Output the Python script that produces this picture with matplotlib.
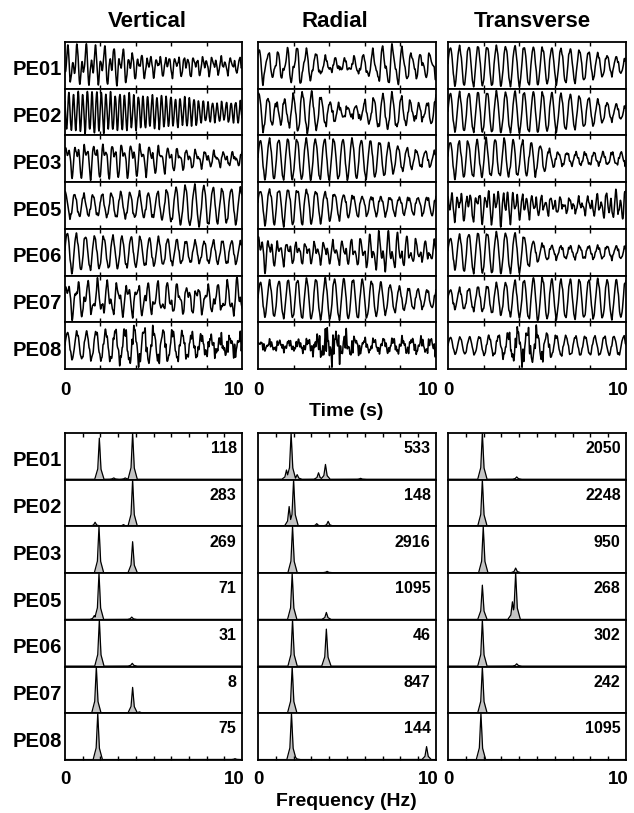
import matplotlib
matplotlib.use('Agg')
import matplotlib.pyplot as plt
import numpy as np

plt.rcParams['font.family'] = ['Liberation Sans', 'DejaVu Sans']
plt.rcParams['font.weight'] = 'bold'

W, H = 634, 813
stations = ['PE01', 'PE02', 'PE03', 'PE05', 'PE06', 'PE07', 'PE08']
components = ['Vertical', 'Radial', 'Transverse']

# spectral peaks (Hz, relative height)
peaks_v = [
    [(1.94, 0.89), (2.75, 0.03), (3.4, 0.03), (3.82, 1.0)],
    [(1.7, 0.08), (3.3, 0.03), (3.82, 1.0)],
    [(1.92, 1.0), (3.82, 0.67)],
    [(1.65, 0.08), (1.92, 1.0), (3.77, 0.05)],
    [(1.94, 1.0), (3.8, 0.06)],
    [(1.77, 1.0), (3.82, 0.55), (4.2, 0.02)],
    [(1.85, 1.0), (9.6, 0.02)],
]
peaks_r = [
    [(1.6, 0.2), (1.86, 1.0), (2.2, 0.1), (3.4, 0.14), (3.79, 0.32), (5.76, 0.02)],
    [(1.75, 0.42), (2.0, 1.0), (3.3, 0.05), (3.94, 0.1)],
    [(1.94, 1.0), (3.88, 0.03)],
    [(1.92, 1.0), (3.84, 0.15)],
    [(1.94, 1.0), (3.84, 0.8)],
    [(1.92, 1.0)],
    [(1.88, 1.0), (2.1, 0.05), (9.47, 0.28)],
]
peaks_t = [
    [(1.93, 1.0), (3.86, 0.05)],
    [(1.93, 1.0)],
    [(1.98, 1.0), (3.8, 0.1)],
    [(1.93, 0.74), (3.62, 0.38), (3.8, 1.0)],
    [(1.93, 1.0), (3.86, 0.05)],
    [(1.93, 1.0)],
    [(1.85, 1.0)],
]

# maximum spectral amplitude printed in each panel
vmax_v = [118, 283, 269, 71, 31, 8, 75]
vmax_r = [533, 148, 2916, 1095, 46, 847, 144]
vmax_t = [2050, 2248, 950, 268, 302, 242, 1095]

# trace amplitude read at every second (0..10 s), upper panels
env_v = [
    [0.9, 1.0, 0.9, 0.95, 0.6, 0.5, 0.5, 0.5, 0.45, 0.4, 0.35],
    [0.9, 1.0, 1.0, 0.9, 0.85, 0.8, 0.75, 0.7, 0.5, 0.45, 0.55],
    [0.9, 1.0, 1.0, 1.0, 0.95, 0.8, 0.7, 0.55, 0.45, 0.4, 0.35],
    [0.6, 0.55, 0.5, 0.55, 0.6, 0.65, 0.75, 0.9, 1.0, 0.85, 0.8],
    [1.0, 0.8, 0.75, 0.75, 0.7, 0.65, 0.6, 0.5, 0.5, 0.55, 0.5],
    [0.85, 0.8, 0.75, 0.7, 0.7, 0.7, 0.7, 0.6, 0.6, 0.65, 1.0],
    [0.8, 0.8, 0.85, 0.9, 1.0, 0.9, 0.85, 0.7, 0.5, 0.4, 0.45],
]
env_r = [
    [1.0, 1.0, 0.95, 0.7, 0.4, 0.35, 0.6, 0.9, 1.0, 0.8, 0.7],
    [0.9, 0.9, 0.9, 0.7, 0.45, 0.4, 0.5, 0.6, 0.65, 0.6, 0.8],
    [0.95, 1.0, 1.0, 1.0, 1.0, 1.0, 0.95, 0.85, 0.6, 0.4, 0.35],
    [0.9, 0.95, 0.95, 0.9, 0.75, 0.6, 0.5, 0.5, 0.45, 0.45, 0.5],
    [1.0, 0.55, 0.5, 0.5, 0.5, 0.55, 0.7, 0.95, 0.8, 0.5, 0.45],
    [0.8, 0.85, 0.9, 0.95, 0.95, 0.95, 0.9, 0.75, 0.55, 0.45, 0.4],
    [0.15, 0.2, 0.2, 0.25, 0.5, 0.4, 0.3, 0.3, 0.3, 0.3, 0.3],
]
env_t = [
    [0.95, 1.0, 1.0, 1.0, 1.0, 0.95, 0.9, 0.85, 0.7, 0.5, 0.35],
    [0.95, 0.95, 1.0, 1.0, 1.0, 1.0, 0.95, 0.85, 0.7, 0.45, 0.3],
    [0.95, 0.9, 0.95, 0.95, 0.9, 0.8, 0.35, 0.3, 0.3, 0.3, 0.3],
    [0.6, 0.8, 1.0, 0.85, 0.5, 0.4, 0.4, 0.45, 0.5, 0.55, 0.6],
    [0.7, 0.95, 1.0, 1.0, 0.95, 0.45, 0.3, 0.3, 0.3, 0.3, 0.3],
    [0.4, 0.45, 0.55, 0.7, 0.8, 0.95, 0.85, 0.85, 0.85, 0.85, 0.8],
    [0.5, 0.5, 0.55, 0.6, 0.85, 0.8, 0.6, 0.55, 0.55, 0.55, 0.55],
]
# high-frequency jitter level (0..10 s) for the noisy PE08 traces, others small
hf_pe08 = [
    [0.1, 0.15, 0.2, 0.35, 0.45, 0.4, 0.3, 0.3, 0.35, 0.45, 0.5],
    [0.2, 0.2, 0.2, 0.3, 0.8, 0.5, 0.2, 0.2, 0.25, 0.25, 0.3],
    [0.05, 0.05, 0.1, 0.2, 0.6, 0.5, 0.15, 0.1, 0.1, 0.1, 0.1],
]
hf_other = 0.1

peaks = [peaks_v, peaks_r, peaks_t]
vmax = [vmax_v, vmax_r, vmax_t]
env = [env_v, env_r, env_t]

cols = [(65, 242), (258, 436), (448, 626)]
top_y0, top_y1 = 42, 369
bot_y0, bot_y1 = 433, 760
title_x = [147, 335, 532]


def box(x0, x1, y0, y1):
    return [x0 / W, 1 - y1 / H, (x1 - x0) / W, (y1 - y0) / H]


def ftext(x, y, s, **kw):
    fig.text(x / W, 1 - y / H, s, **kw)


fig = plt.figure(figsize=(W / 100, H / 100), dpi=100)

t = np.linspace(0, 10, 2000)
tsec = np.arange(11)
f = np.linspace(0, 10, 2001)
hfsig = (0.5 * np.sin(2 * np.pi * 6.7 * t) + 0.35 * np.sin(2 * np.pi * 9.3 * t + 1)
         + 0.25 * np.sin(2 * np.pi * 12.1 * t + 2))

rh_top = (top_y1 - top_y0) / 7
rh_bot = (bot_y1 - bot_y0) / 7

for c in range(3):
    x0, x1 = cols[c]
    ftext(title_x[c], 27, components[c], fontsize=16, ha='center', va='baseline')
    for r in range(7):
        # waveform
        ya = top_y0 + r * rh_top
        ax = fig.add_axes(box(x0, x1, ya, ya + rh_top))
        e = np.interp(t, tsec, env[c][r])
        sig = np.zeros_like(t)
        for k, (fp, h) in enumerate(peaks[c][r]):
            if fp < 6:
                sig += h * np.sin(2 * np.pi * fp * t + 1.3 * k)
        sig = sig / np.abs(sig).max()
        if r == 6:
            hl = np.interp(t, tsec, hf_pe08[c])
        else:
            hl = hf_other
        y = e * sig + hl * hfsig
        y = y / np.abs(y).max()
        ax.plot(t, y, color='black', lw=1.1)
        ax.set_xlim(0, 10)
        ax.set_ylim(-1.08, 1.08)
        ax.set_xticks([2, 4, 6, 8])
        ax.set_yticks([])
        ax.tick_params(axis='x', direction='in', top=True, bottom=True, length=3,
                       width=1, labelbottom=False)
        for s in ax.spines.values():
            s.set_linewidth(1.3)

        # spectrum
        yb = bot_y0 + r * rh_bot
        ax2 = fig.add_axes(box(x0, x1, yb, yb + rh_bot))
        spec = np.zeros_like(f)
        for fp, h in peaks[c][r]:
            tri = np.interp(f, [fp - 0.26, fp - 0.09, fp, fp + 0.09, fp + 0.26],
                            [0, 0.25 * h, h, 0.25 * h, 0])
            spec = np.maximum(spec, tri)
        ax2.fill_between(f, 0, spec, color='#c4c4c4', lw=0)
        ax2.plot(f, spec, color='black', lw=0.9)
        ax2.set_xlim(0, 10)
        ax2.set_ylim(-0.01, 1.0)
        ax2.set_yticks([])
        ax2.set_xticks(range(1, 10))
        ax2.tick_params(axis='x', direction='in', top=(r == 0), bottom=(r == 6),
                        length=3, width=1, labelbottom=False)
        for s in ax2.spines.values():
            s.set_linewidth(1.3)
        ax2.text(0.97, 0.57, str(vmax[c][r]), transform=ax2.transAxes,
                 ha='right', va='baseline', fontsize=11.5)

        if c == 0:
            ftext(62, ya + rh_top / 2 + 10, stations[r], fontsize=14.5, ha='right', va='baseline')
            ftext(62, yb + rh_bot / 2 + 10, stations[r], fontsize=14.5, ha='right', va='baseline')

    for yl in (395, 784):
        ftext(x0, yl, '0', fontsize=13.5, ha='center', va='baseline')
        ftext(x1 + 3, yl, '10', fontsize=13.5, ha='right', va='baseline')

ftext(346, 416, 'Time (s)', fontsize=14, ha='center', va='baseline')
ftext(346, 806, 'Frequency (Hz)', fontsize=14, ha='center', va='baseline')

fig.savefig('out.png', dpi=100)
